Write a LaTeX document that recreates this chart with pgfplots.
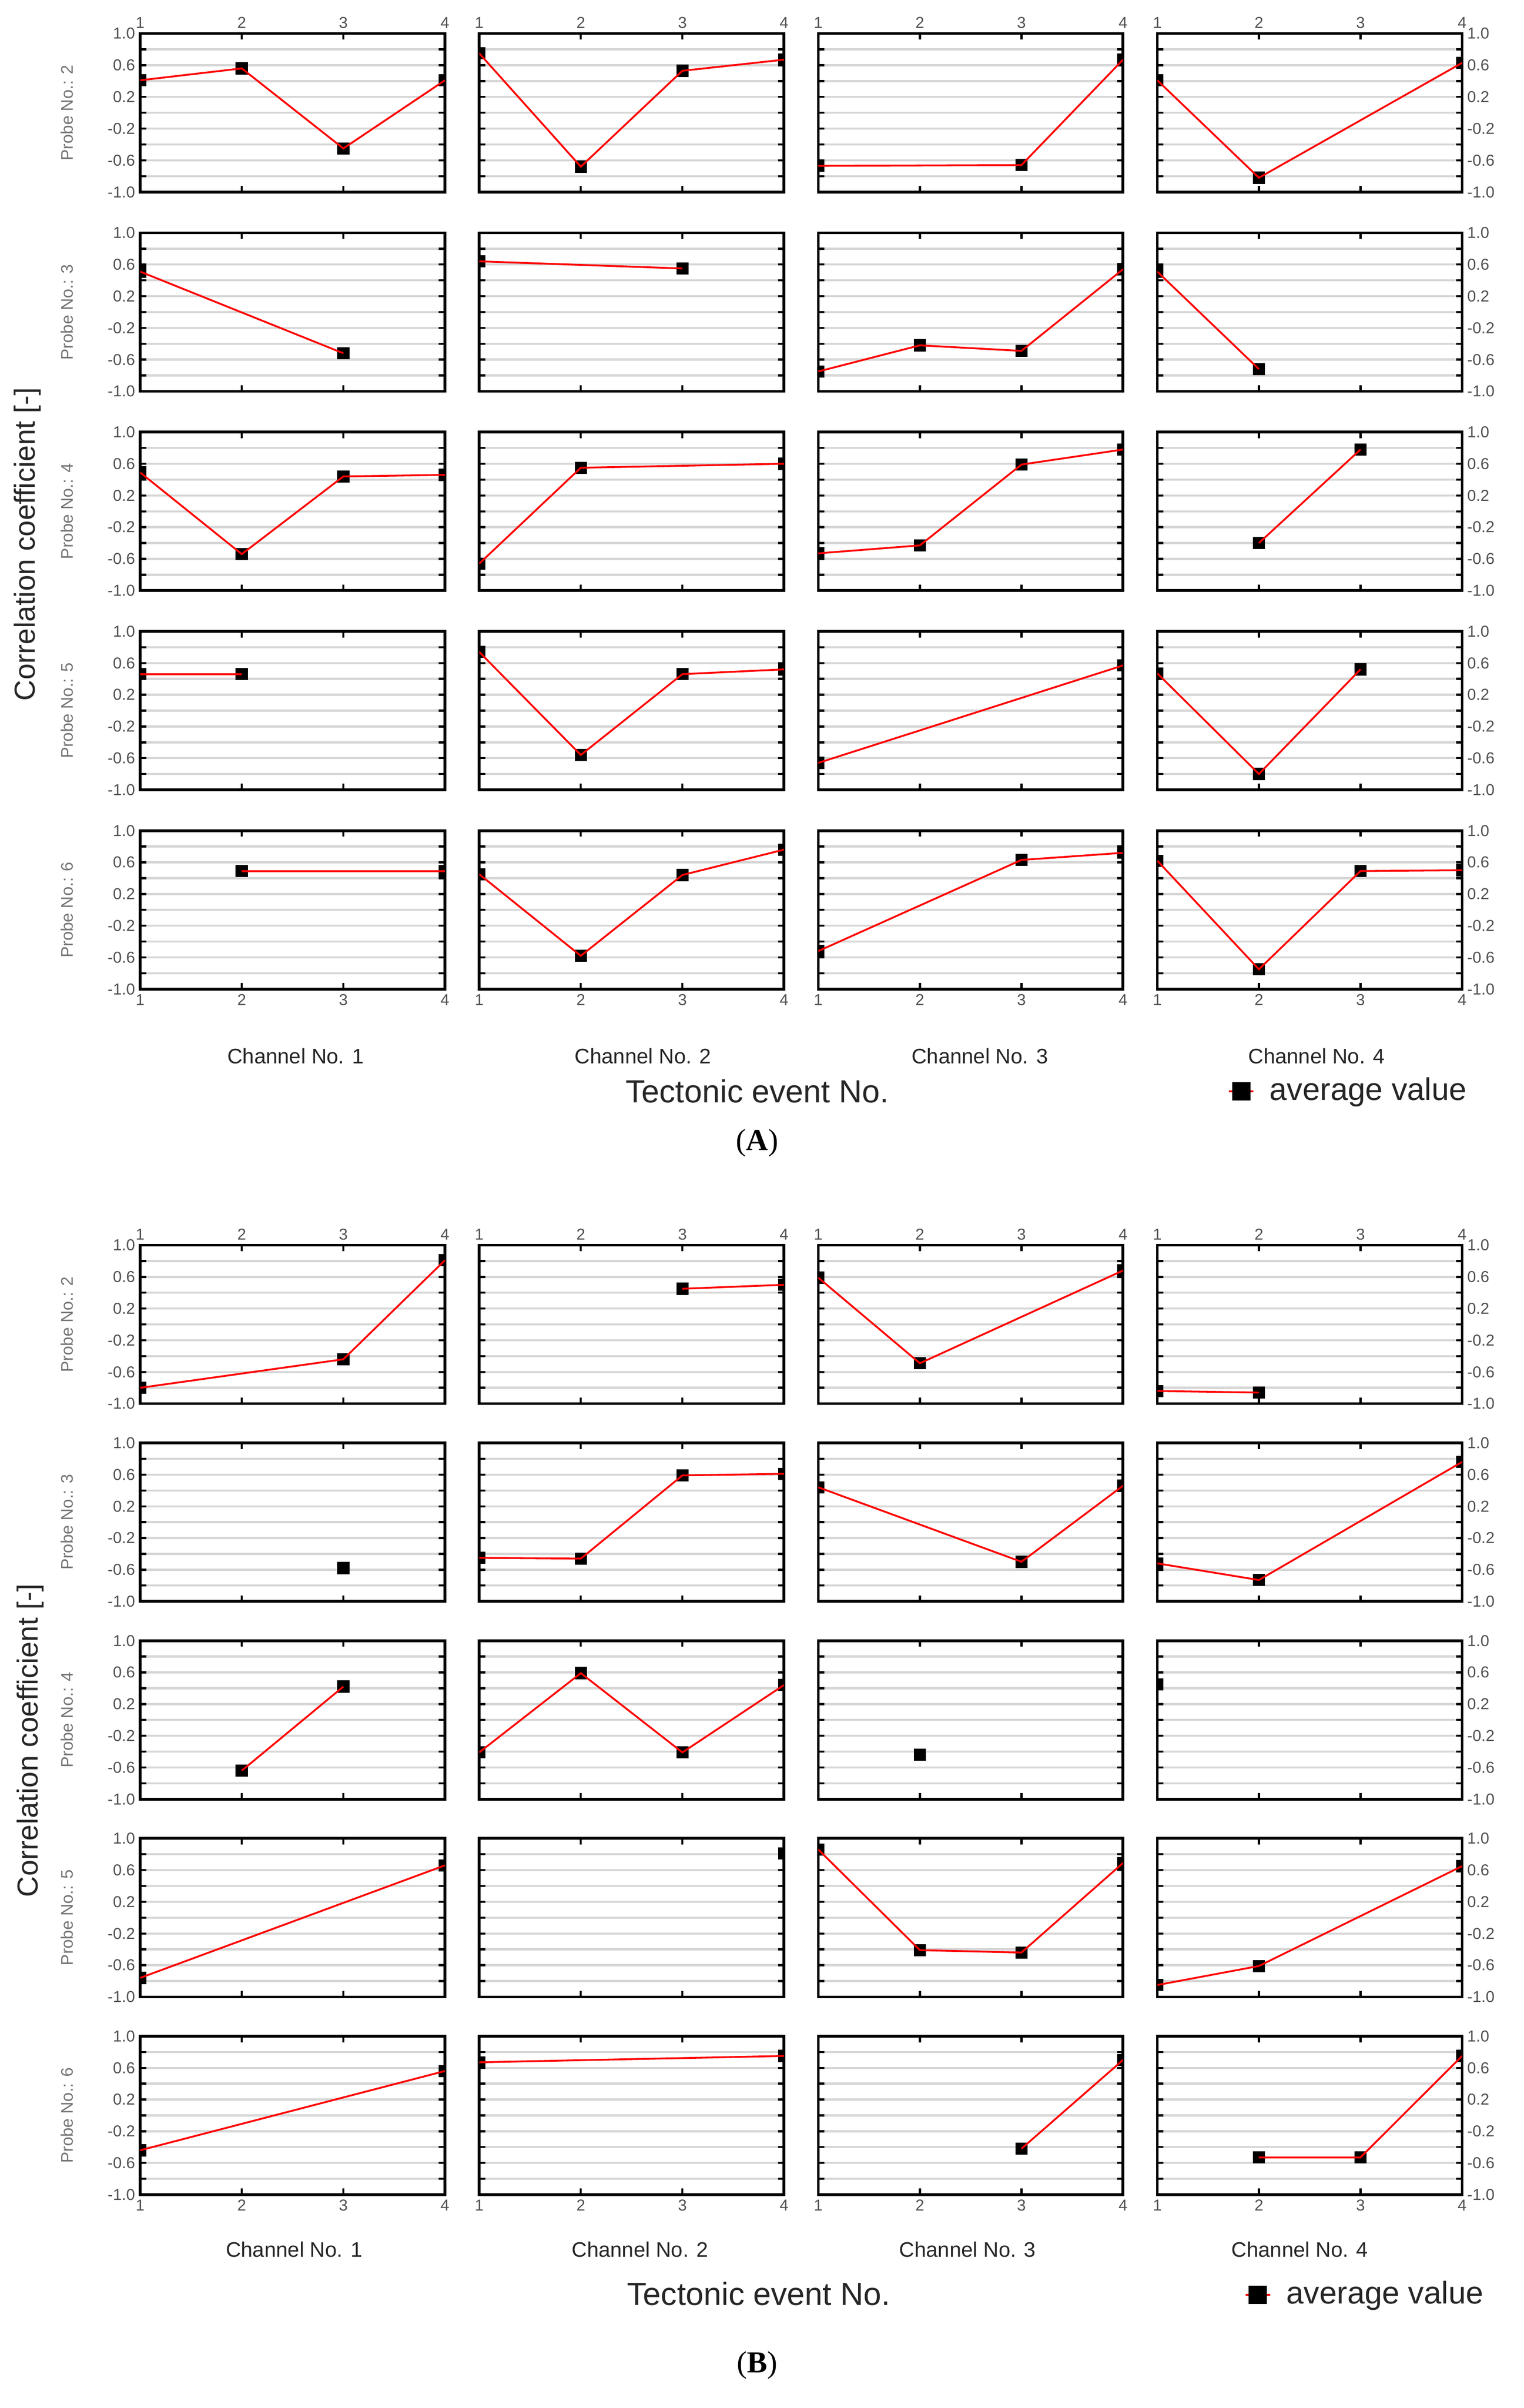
\documentclass[border=0pt]{standalone}
\usepackage{pgfplots}
\pgfplotsset{compat=1.18}
\usepackage{fontspec}
\setmainfont{Liberation Sans}
\newfontfamily\seriffont{Liberation Serif}
\definecolor{gridgray}{HTML}{D6D6D6}
\definecolor{lblgray}{HTML}{505050}
\pgfplotsset{
  cell/.style={
    scale only axis, width=100pt, height=52pt, anchor=north west,
    xmin=1, xmax=4, ymin=-1, ymax=1,
    xtick={1,2,3,4}, ytick={-1,-0.6,-0.2,0.2,0.6,1},
    minor ytick={-0.8,-0.4,0,0.4,0.8},
    xticklabels={}, yticklabels={},
    ymajorgrids, yminorgrids,
    major grid style={gridgray, line width=0.7pt},
    minor grid style={gridgray, line width=0.7pt},
    axis line style={black, line width=0.9pt},
    tick style={black, line width=0.7pt},
    major tick length=2pt, minor tick length=2pt,
    tick align=inside, tick pos=both,
    clip marker paths=true,
    ticklabel style={font=\fontsize{5.2}{6}\selectfont, text=lblgray},
    xticklabel style={inner sep=1.5pt},
    yticklabel style={inner sep=1.5pt},
  },
  toprow/.style={xticklabel pos=upper, xticklabels={1,2,3,4}},
  botrow/.style={xticklabel pos=lower, xticklabels={1,2,3,4}},
  leftcol/.style={yticklabel pos=left, yticklabels={-1.0,-0.6,-0.2,0.2,0.6,1.0}},
  rightcol/.style={yticklabel pos=right, yticklabels={-1.0,-0.6,-0.2,0.2,0.6,1.0}},
  leg/.style={
    legend style={at={(#1)}, anchor=west, draw=none, fill=none, inner sep=0pt,
      font=\fontsize{10.3}{12}\selectfont, text=black!85, nodes={inner sep=2pt},
      /tikz/every odd column/.append style={column sep=3pt}},
    legend cell align=left,
    legend image code/.code={\draw[mark repeat=2, mark phase=2, ##1] plot coordinates {(0pt,0pt) (4pt,0pt) (8pt,0pt)};}
  },
}
\newcommand{\cell}[4]{%
\begin{axis}[cell, at={(#1)}, #2]
\addplot[only marks, mark=square*, mark size=1.8pt, black, forget plot] coordinates {#3};
\addplot[red, line width=0.6pt, no markers, forget plot] coordinates {#3};
#4
\end{axis}}
\newcommand{\legendbits}{%
\addlegendimage{red, line width=0.6pt, mark=square*, mark size=2.7pt, mark options={black, fill=black}}
\addlegendentry{average value}}
\begin{document}
\begin{tikzpicture}
\path[use as bounding box] (0pt,0pt) rectangle (500pt,-790pt);
% ================= PANEL A =================
% Row 1 (Probe 2)
\cell{46pt,-11pt}{toprow,leftcol}{(1,0.41)(2,0.56)(3,-0.45)(4,0.41)}{}
\cell{157.25pt,-11pt}{toprow}{(1,0.75)(2,-0.68)(3,0.53)(4,0.67)}{}
\cell{268.5pt,-11pt}{toprow}{(1,-0.67)(3,-0.66)(4,0.67)}{}
\cell{379.75pt,-11pt}{toprow,rightcol}{(1,0.41)(2,-0.82)(4,0.63)}{}
% Row 2 (Probe 3)
\cell{46pt,-76.375pt}{leftcol}{(1,0.51)(3,-0.52)}{}
\cell{157.25pt,-76.375pt}{}{(1,0.64)(3,0.55)}{}
\cell{268.5pt,-76.375pt}{}{(1,-0.75)(2,-0.42)(3,-0.49)(4,0.54)}{}
\cell{379.75pt,-76.375pt}{rightcol}{(1,0.51)(2,-0.72)}{}
% Row 3 (Probe 4)
\cell{46pt,-141.75pt}{leftcol}{(1,0.49)(2,-0.54)(3,0.44)(4,0.46)}{}
\cell{157.25pt,-141.75pt}{}{(1,-0.66)(2,0.55)(4,0.60)}{}
\cell{268.5pt,-141.75pt}{}{(1,-0.53)(2,-0.43)(3,0.59)(4,0.78)}{}
\cell{379.75pt,-141.75pt}{rightcol}{(2,-0.40)(3,0.78)}{}
% Row 4 (Probe 5)
\cell{46pt,-207.125pt}{leftcol}{(1,0.46)(2,0.46)}{}
\cell{157.25pt,-207.125pt}{}{(1,0.74)(2,-0.56)(3,0.46)(4,0.52)}{}
\cell{268.5pt,-207.125pt}{}{(1,-0.66)(4,0.57)}{}
\cell{379.75pt,-207.125pt}{rightcol}{(1,0.47)(2,-0.80)(3,0.52)}{}
% Row 5 (Probe 6)
\cell{46pt,-272.5pt}{botrow,leftcol}{(2,0.49)(4,0.49)}{}
\cell{157.25pt,-272.5pt}{botrow}{(1,0.45)(2,-0.58)(3,0.44)(4,0.76)}{}
\cell{268.5pt,-272.5pt}{botrow}{(1,-0.52)(3,0.63)(4,0.72)}{}
\cell{379.75pt,-272.5pt}{botrow,rightcol,leg={0.23,-0.644}}{(1,0.62)(2,-0.75)(3,0.49)(4,0.50)}{\legendbits}
% labels A
\node[rotate=90, font=\fontsize{9.5}{11}\selectfont, text=black!85] at (9pt,-178.5pt) {Correlation coefficient [-]};
\foreach \yy/\pp in {37/2, 102.375/3, 167.75/4, 233.125/5, 298.5/6}
  \node[rotate=90, font=\fontsize{5.5}{6}\selectfont, text=black!55] at (22pt,-\yy pt) {Probe No.: \pp};
\foreach \xx/\cc in {97/1, 211/2, 321.5/3, 432/4}
  \node[font=\fontsize{6.9}{8}\selectfont, text=black!85] at (\xx pt,-346.5pt) {Channel No. \cc};
\node[font=\fontsize{10.5}{12}\selectfont, text=black!85] at (248.5pt,-358pt) {Tectonic event No.};
\node[font=\seriffont\fontsize{10}{12}\selectfont] at (248.5pt,-375pt) {(\textbf{A})};
% ================= PANEL B =================
% Row 1 (Probe 2)
\cell{46pt,-408.5pt}{toprow,leftcol}{(1,-0.80)(3,-0.44)(4,0.81)}{}
\cell{157.25pt,-408.5pt}{toprow}{(3,0.45)(4,0.50)}{}
\cell{268.5pt,-408.5pt}{toprow}{(1,0.59)(2,-0.49)(4,0.68)}{}
\cell{379.75pt,-408.5pt}{toprow,rightcol}{(1,-0.84)(2,-0.86)}{}
% Row 2 (Probe 3)
\cell{46pt,-473.375pt}{leftcol}{(3,-0.58)}{}
\cell{157.25pt,-473.375pt}{}{(1,-0.45)(2,-0.46)(3,0.59)(4,0.61)}{}
\cell{268.5pt,-473.375pt}{}{(1,0.44)(3,-0.50)(4,0.46)}{}
\cell{379.75pt,-473.375pt}{rightcol}{(1,-0.52)(2,-0.73)(4,0.76)}{}
% Row 3 (Probe 4)
\cell{46pt,-538.25pt}{leftcol}{(2,-0.64)(3,0.42)}{}
\cell{157.25pt,-538.25pt}{}{(1,-0.41)(2,0.59)(3,-0.41)(4,0.44)}{}
\cell{268.5pt,-538.25pt}{}{(2,-0.44)}{}
\cell{379.75pt,-538.25pt}{rightcol}{(1,0.45)}{}
% Row 4 (Probe 5)
\cell{46pt,-603.125pt}{leftcol}{(1,-0.76)(4,0.66)}{}
\cell{157.25pt,-603.125pt}{}{(4,0.81)}{}
\cell{268.5pt,-603.125pt}{}{(1,0.86)(2,-0.41)(3,-0.44)(4,0.69)}{}
\cell{379.75pt,-603.125pt}{rightcol}{(1,-0.85)(2,-0.61)(4,0.65)}{}
% Row 5 (Probe 6)
\cell{46pt,-668pt}{botrow,leftcol}{(1,-0.44)(4,0.56)}{}
\cell{157.25pt,-668pt}{botrow}{(1,0.67)(4,0.75)}{}
\cell{268.5pt,-668pt}{botrow}{(3,-0.42)(4,0.70)}{}
\cell{379.75pt,-668pt}{botrow,rightcol,leg={0.285,-0.631}}{(2,-0.53)(3,-0.53)(4,0.75)}{\legendbits}
% labels B
\node[rotate=90, font=\fontsize{9.5}{11}\selectfont, text=black!85] at (10pt,-571pt) {Correlation coefficient [-]};
\foreach \yy/\pp in {434.5/2, 499.375/3, 564.25/4, 629.125/5, 694/6}
  \node[rotate=90, font=\fontsize{5.5}{6}\selectfont, text=black!55] at (22pt,-\yy pt) {Probe No.: \pp};
\foreach \xx/\cc in {96.5/1, 210/2, 317.5/3, 426.5/4}
  \node[font=\fontsize{6.9}{8}\selectfont, text=black!85] at (\xx pt,-738pt) {Channel No. \cc};
\node[font=\fontsize{10.5}{12}\selectfont, text=black!85] at (249pt,-752.5pt) {Tectonic event No.};
\node[font=\seriffont\fontsize{10}{12}\selectfont] at (248.5pt,-776pt) {(\textbf{B})};
\end{tikzpicture}
\end{document}
